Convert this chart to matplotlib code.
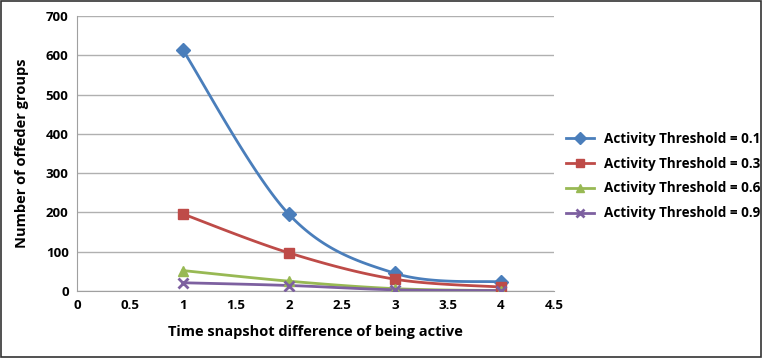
import numpy as np
import matplotlib
matplotlib.use("Agg")
import matplotlib.pyplot as plt

plt.rcParams['font.family'] = ['Open Sans', 'DejaVu Sans']

x = [1, 2, 3, 4]
thr_01 = [613, 195, 45, 23]
thr_03 = [196, 97, 30, 10]
thr_06 = [52, 25, 6, 1]
thr_09 = [21, 14, 3, 1]
labels = ["Activity Threshold = 0.1", "Activity Threshold = 0.3",
          "Activity Threshold = 0.6", "Activity Threshold = 0.9"]
colors = ["#4a7ebb", "#be4b48", "#98b954", "#7d60a0"]
markers = ["D", "s", "^", "x"]
xticks = [0, 0.5, 1, 1.5, 2, 2.5, 3, 3.5, 4, 4.5]
yticks = [0, 100, 200, 300, 400, 500, 600, 700]


def smooth(xs, ys, n=40):
    """Cubic Bezier smoothing through the points (Catmull-Rom style)."""
    xs = np.asarray(xs, float)
    ys = np.asarray(ys, float)
    px, py = [], []
    m = len(xs)
    for i in range(m - 1):
        p0 = np.array([xs[max(i - 1, 0)], ys[max(i - 1, 0)]])
        p1 = np.array([xs[i], ys[i]])
        p2 = np.array([xs[i + 1], ys[i + 1]])
        p3 = np.array([xs[min(i + 2, m - 1)], ys[min(i + 2, m - 1)]])
        c1 = p1 + (p2 - p0) / 6.0
        c2 = p2 - (p3 - p1) / 6.0
        t = np.linspace(0, 1, n)[:, None]
        pts = ((1 - t) ** 3) * p1 + 3 * ((1 - t) ** 2) * t * c1 + 3 * (1 - t) * t ** 2 * c2 + t ** 3 * p2
        px.extend(pts[:, 0])
        py.extend(pts[:, 1])
    return np.array(px), np.array(py)


fig = plt.figure(figsize=(7.63, 3.58), dpi=100)
ax = fig.add_axes([77 / 763, 1 - 291 / 358, (554 - 77) / 763, (291 - 16) / 358])

series = [thr_01, thr_03, thr_06, thr_09]
handles = []
for ys, c, mk, lab in zip(series, colors, markers, labels):
    sx, sy = smooth(x, ys)
    ax.plot(sx, sy, color=c, lw=2, zorder=3)
    ax.plot(x, ys, linestyle="none", marker=mk, color=c, ms=7,
            mew=2 if mk == "x" else 1, zorder=4)
    h, = ax.plot([], [], color=c, lw=2, marker=mk, ms=6,
                 mew=2 if mk == "x" else 1, label=lab)
    handles.append(h)

ax.set_xlim(0, 4.5)
ax.set_ylim(0, 700)
ax.set_xticks(xticks)
ax.set_xticklabels([f"{v:g}" for v in xticks])
ax.set_yticks(yticks)
ax.yaxis.grid(True, color="#b0b0b0", lw=1)
ax.set_axisbelow(True)
for s in ["top", "right"]:
    ax.spines[s].set_visible(False)
for s in ["left", "bottom"]:
    ax.spines[s].set_color("#a0a0a0")
ax.tick_params(length=0, labelsize=9.5, pad=6)
for t in ax.get_xticklabels() + ax.get_yticklabels():
    t.set_fontweight("bold")

ax.set_xlabel("Time snapshot difference of being active", fontsize=10.5,
              fontweight="bold", labelpad=9)
ax.set_ylabel("Number of offeder groups", fontsize=10.5, fontweight="bold",
              labelpad=12)

leg = fig.legend(handles=handles, loc="center left",
                 bbox_to_anchor=(566 / 763, 1 - 176 / 358), frameon=False,
                 prop={"weight": "bold", "size": 9.75}, handlelength=2.1,
                 labelspacing=0.8, handletextpad=0.7, borderaxespad=0,
                 borderpad=0)

fig.patches.append(plt.Rectangle((0.001, 0.002), 0.997, 0.995, transform=fig.transFigure,
                                 fill=False, edgecolor="#333333", lw=1.2))

fig.savefig("out.png", dpi=100)
